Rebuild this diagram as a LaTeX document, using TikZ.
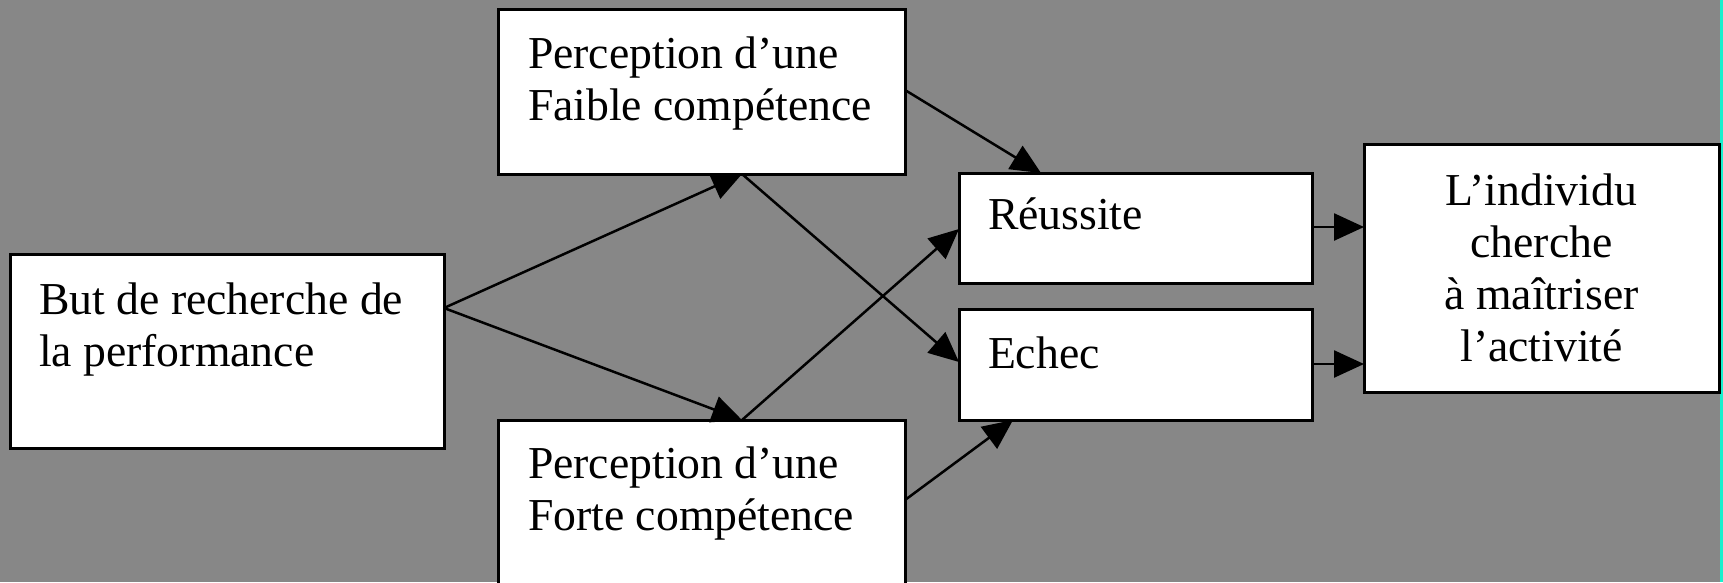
\documentclass[tikz,border=0pt]{standalone}
\usepackage{fontspec}
\setmainfont{Liberation Serif}
\usetikzlibrary{arrows.meta,calc}
\definecolor{bggray}{RGB}{135,135,135}
\definecolor{edgecyan}{RGB}{24,240,205}
% several lines of text whose reference point is the first baseline
\newcommand{\toplines}[2]{\begin{tabular}[t]{@{}#1@{}}#2\end{tabular}}
\begin{document}
\begin{tikzpicture}[x=1pt,y=-1pt,
  box/.style={draw=black, fill=white, line width=3pt, rectangle,
              inner sep=0pt, outer sep=0pt, anchor=north west},
  txt/.style={inner sep=0pt, outer sep=0pt, font=\fontsize{45.7}{52}\selectfont},
  arr/.style={line width=2.5pt, -{Triangle[length=30pt,width=27pt]}}]
\useasboundingbox (0,0) rectangle (1723,582);
\clip (0,0) rectangle (1723,582);
\fill[bggray] (0,0) rectangle (1723,582);
\fill[edgecyan] (1720,0) rectangle (1723,582);

% boxes
\node[box, minimum width=434pt, minimum height=194pt] (but) at (10,254) {};
\node[box, minimum width=407pt, minimum height=165pt] (faible) at (498,9) {};
\node[box, minimum width=407pt, minimum height=200pt] (forte) at (498,420) {};
\node[box, minimum width=353pt, minimum height=110pt] (reussite) at (959,173) {};
\node[box, minimum width=353pt, minimum height=111pt] (echec) at (959,309) {};
\node[box, minimum width=355pt, minimum height=248pt] (indiv) at (1364,144) {};

% texts
\node[txt, anchor=base west] (butT) at ($(but.north west)+(29,60)$)
  {\toplines{l}{But de recherche de\\la performance}};
\node[txt, anchor=base west] (faibleT) at ($(faible.north west)+(30,59)$)
  {\toplines{l}{Perception d’une\\Faible compétence}};
\node[txt, anchor=base west] (forteT) at ($(forte.north west)+(30,58)$)
  {\toplines{l}{Perception d’une\\Forte compétence}};
\node[txt, anchor=base west] (reussiteT) at ($(reussite.north west)+(29,56)$) {Réussite};
\node[txt, anchor=base west] (echecT) at ($(echec.north west)+(29,59)$) {Echec};
\node[txt, anchor=base] (indivT) at ($(indiv.north)+(0,61)$)
  {\toplines{c}{L’individu\\cherche\\à maîtriser\\l’activité}};

% connectors
\draw[arr] ($(but.north east)+(0,54)$) -- ($(faible.south west)+(244,0)$);
\draw[arr] ($(but.north east)+(0,54)$) -- ($(forte.north west)+(244,0)$);
\draw[arr] ($(faible.south west)+(244,0)$) -- ($(echec.north west)+(0,53)$);
\draw[arr] ($(forte.north west)+(244,0)$) -- ($(reussite.north west)+(0,56)$);
\draw[arr] ($(faible.north east)+(0,81)$) -- ($(reussite.north west)+(82,0)$);
\draw[arr] ($(forte.north east)+(0,80)$) -- ($(echec.south west)+(54,0)$);
\draw[arr] ($(reussite.north east)+(0,54)$) -- ($(indiv.north west)+(0,83)$);
\draw[arr] ($(echec.north east)+(0,55)$) -- ($(indiv.north west)+(0,220)$);
\end{tikzpicture}
\end{document}
